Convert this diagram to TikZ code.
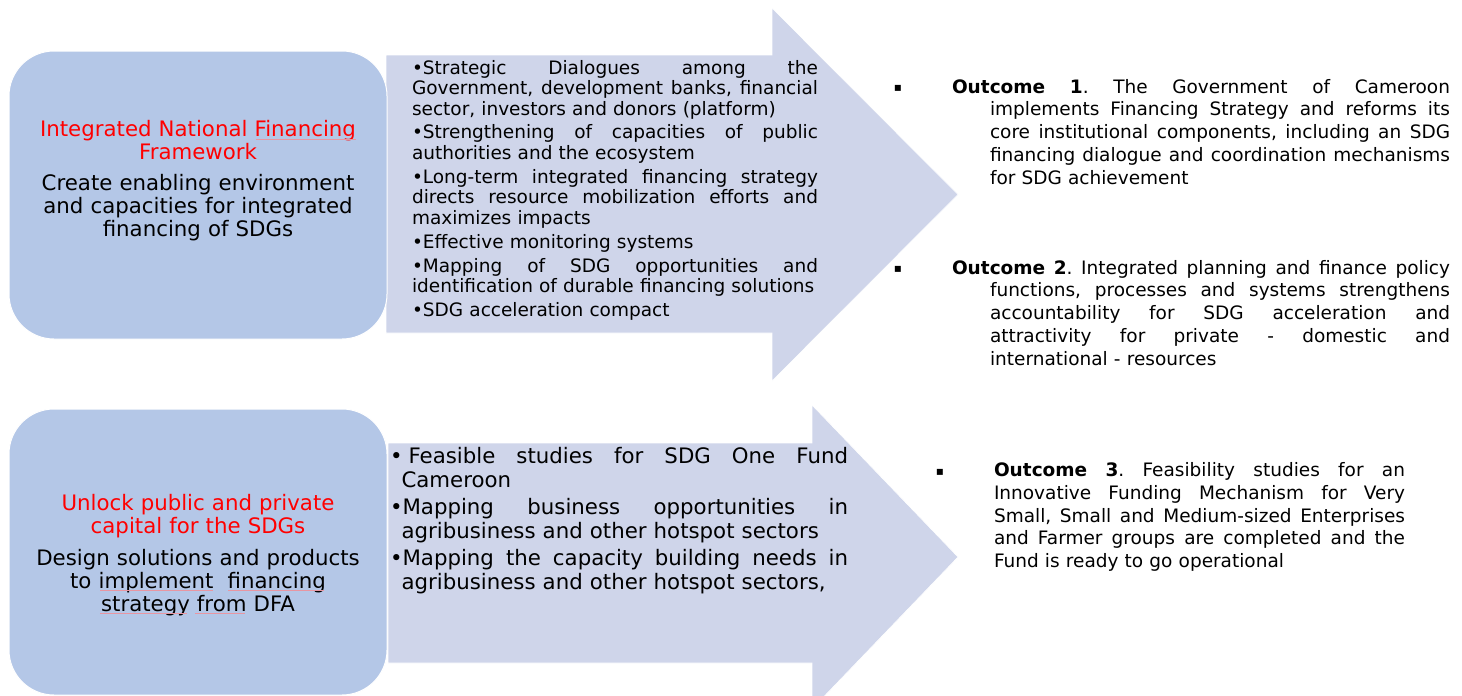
\documentclass[tikz,border=0pt]{standalone}
\usepackage{fontspec}
\setmainfont{DejaVu Sans}
\definecolor{boxblue}{RGB}{180,199,231}
\definecolor{arrowfill}{RGB}{207,213,234}
\definecolor{spellred}{RGB}{232,150,162}
\newcommand\sps{\frenchspacing\spaceskip=0.318em plus 1fil minus 0.1em\relax}
\newcommand\jl[1]{\makebox[\hsize][s]{\sps #1}\par}
\newcommand\rl[1]{\makebox[\hsize][l]{#1}\par}
\newcommand\ijl[2]{\hspace*{#1}\makebox[\dimexpr\hsize-#1\relax][s]{\sps #2}\par}
\newcommand\irl[2]{\hspace*{#1}\makebox[\dimexpr\hsize-#1\relax][l]{#2}\par}
\begin{document}
\begin{tikzpicture}[x=1pt,y=-1pt,
  every node/.style={inner sep=0pt,outer sep=0pt},
  roundbox/.style={fill=boxblue,draw=white,line width=1pt,rounded corners=45pt,minimum width=378pt},
  bigarrow/.style={fill=arrowfill,draw=white,line width=0.6pt},
  titletext/.style={text=red,font=\fontsize{21.3}{22.5}\selectfont,text width=378pt,align=center,anchor=base},
  bodytext/.style={font=\fontsize{21.3}{23.3}\selectfont,text width=378pt,align=center,anchor=base},
  toplist/.style={font=\fontsize{18.5}{20.5}\selectfont,text width=406pt,anchor=base west},
  botlist/.style={font=\fontsize{21.3}{24}\selectfont,text width=458pt,anchor=base west},
  outcome/.style={font=\fontsize{18.5}{22.8}\selectfont,anchor=base west},
  sqbullet/.style={font=\fontsize{12}{14}\selectfont,anchor=base},
  spell/.style={draw=spellred,line width=0.5pt},
]
\clip (0,0) rectangle (1462,696);
\fill[white] (0,0) rectangle (1462,696);

% arrows
\fill[bigarrow] (386,55) -- (772,55) -- (772,8) -- (958,194.5) -- (772,381) -- (772,333) -- (386,333) -- cycle;
\fill[bigarrow] (388,443) -- (812,443) -- (812,405) -- (958,557) -- (812,709) -- (812,663) -- (388,663) -- cycle;

% rounded boxes
\node[roundbox,minimum height=288pt] (box1) at (198,195) {};
\node[roundbox,minimum height=286pt] (box2) at (198,552) {};

% box texts
\node[titletext] (t1) at (198,136.5) {Integrated National Financing\\Framework};
\node[bodytext] (b1) at (198,190) {Create enabling environment\\and capacities for integrated\\financing of SDGs};
\node[titletext,font=\fontsize{21.3}{23.5}\selectfont] (t2) at (198,510) {Unlock public and private\\capital for the SDGs};
\node[bodytext,font=\fontsize{21.3}{23}\selectfont] (b2) at (198,565) {Design solutions and products\\to implement\ \ financing\\strategy from DFA};

% proofing underlines
\coordinate (s1a) at (256,139.5); \coordinate (s1b) at (356,139.5);
\coordinate (s2a) at (100,590); \coordinate (s2b) at (213,590);
\coordinate (s3a) at (228,590); \coordinate (s3b) at (324,590);
\coordinate (s4a) at (100,613); \coordinate (s4b) at (187,613);
\coordinate (s5a) at (195,613); \coordinate (s5b) at (245,613);
\draw[spell] (s1a) -- (s1b);
\draw[spell] (s2a) -- (s2b);
\draw[spell] (s3a) -- (s3b);
\draw[spell] (s4a) -- (s4b);
\draw[spell] (s5a) -- (s5b);

% top arrow list
\node[toplist] (l1) at (412,74) {%
\jl{•Strategic Dialogues among the}
\jl{Government, development banks, financial}
\rl{sector, investors and donors (platform)}
\vspace{3.4pt}
\jl{•Strengthening of capacities of public}
\rl{authorities and the ecosystem}
\vspace{3.4pt}
\jl{•Long-term integrated financing strategy}
\jl{directs resource mobilization efforts and}
\rl{maximizes impacts}
\vspace{3.4pt}
\rl{•Effective monitoring systems}
\vspace{3.4pt}
\jl{•Mapping of SDG opportunities and}
\rl{identification of durable financing solutions}
\vspace{3.4pt}
\rl{•SDG acceleration compact}};

% bottom arrow list
\node[botlist] (l2) at (390,463.5) {%
\jl{•\hspace{6pt}Feasible studies for SDG One Fund}
\irl{11.5pt}{Cameroon}
\vspace{3pt}
\jl{•Mapping business opportunities in}
\irl{11.5pt}{agribusiness and other hotspot sectors}
\vspace{3pt}
\jl{•Mapping the capacity building needs in}
\irl{11.5pt}{agribusiness and other hotspot sectors,}};

% outcomes
\node[sqbullet] (q1) at (898,91.5) {▪};
\node[outcome,text width=498pt] (o1) at (952,93) {%
\jl{\textbf{Outcome 1}. The Government of Cameroon}
\ijl{38pt}{implements Financing Strategy and reforms its}
\ijl{38pt}{core institutional components, including an SDG}
\ijl{38pt}{financing dialogue and coordination mechanisms}
\irl{38pt}{for SDG achievement}};

\node[sqbullet] (q2) at (898,272.5) {▪};
\node[outcome,text width=498pt] (o2) at (952,274) {%
\jl{\textbf{Outcome 2}. Integrated planning and finance policy}
\ijl{38pt}{functions, processes and systems strengthens}
\ijl{38pt}{accountability for SDG acceleration and}
\ijl{38pt}{attractivity for private - domestic and}
\irl{38pt}{international - resources}};

\node[sqbullet] (q3) at (940,475) {▪};
\node[outcome,text width=411pt] (o3) at (994,476.5) {%
\jl{\textbf{Outcome 3}. Feasibility studies for an}
\jl{Innovative Funding Mechanism for Very}
\jl{Small, Small and Medium-sized Enterprises}
\jl{and Farmer groups are completed and the}
\rl{Fund is ready to go operational}};
\end{tikzpicture}
\end{document}
